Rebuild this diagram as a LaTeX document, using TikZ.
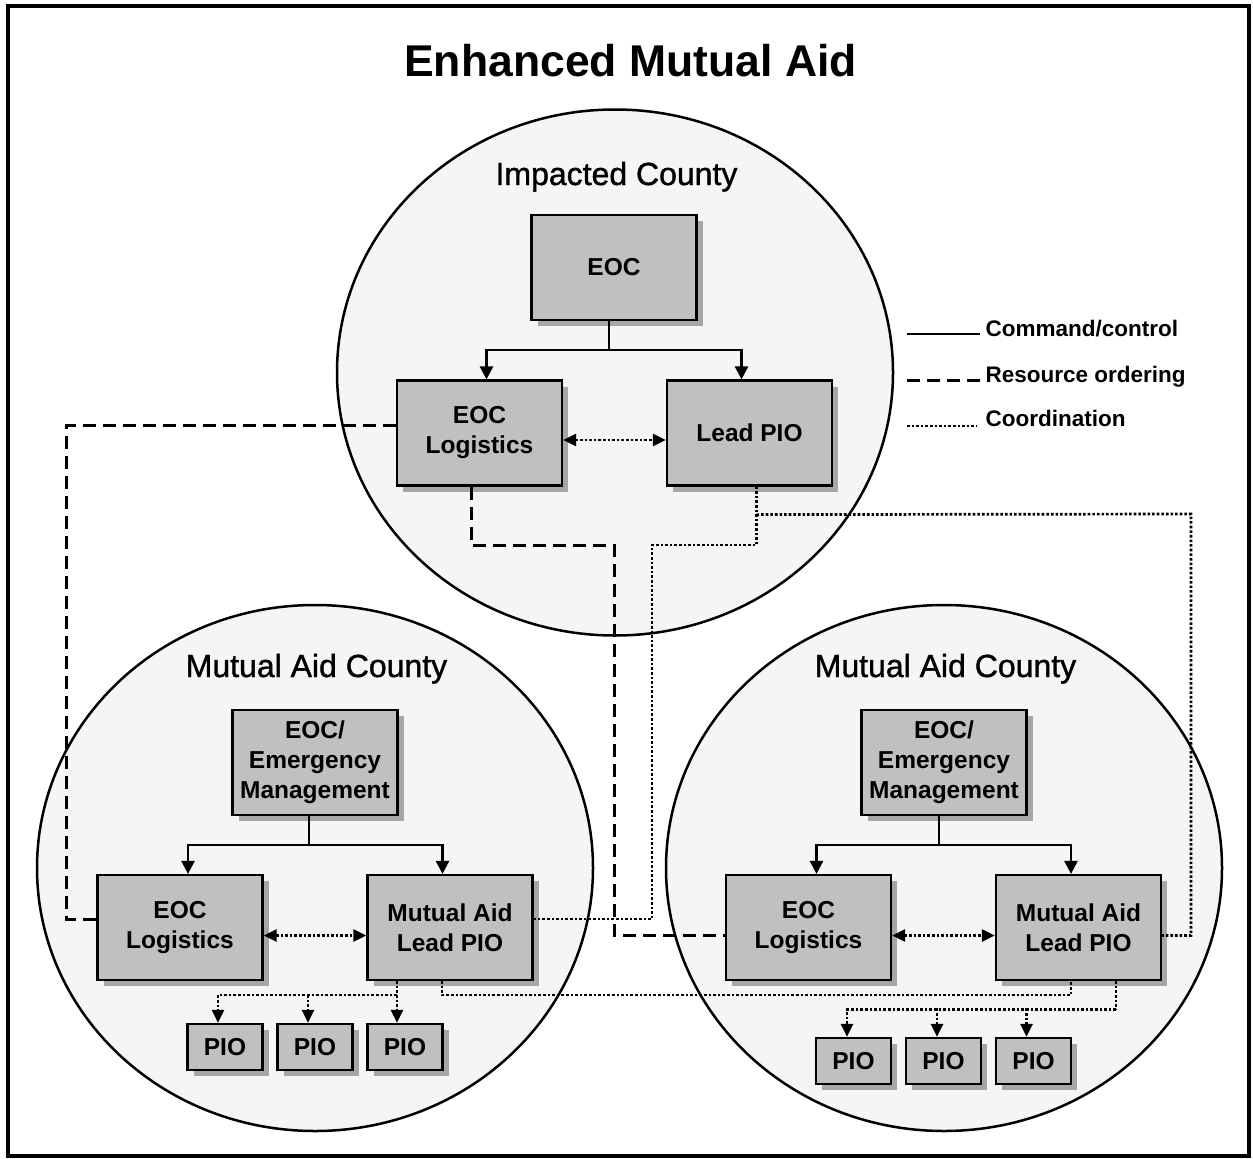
\documentclass[tikz,border=0pt]{standalone}
\usepackage{fontspec}
\setmainfont{Liberation Sans}
\newfontfamily\circfam{Liberation Sans}[FakeBold=1.2]
\usetikzlibrary{arrows.meta,calc,shapes.geometric,shadows}
\definecolor{boxgray}{RGB}{192,192,192}
\definecolor{circfill}{RGB}{245,245,245}
\newcommand\boxfont{\fontsize{24.5pt}{30pt}\selectfont\bfseries}
\newcommand\titlefont{\fontsize{44.5pt}{50pt}\selectfont\bfseries}
\newcommand\circfont{\circfam\fontsize{32pt}{38pt}\selectfont}
\newcommand\legfont{\fontsize{22.5pt}{27pt}\selectfont\bfseries}
\begin{document}
\begin{tikzpicture}[x=1pt,y=-1pt,
  box/.style={draw=black, line width=2.2pt, fill=boxgray, inner sep=0pt, align=center, font=\boxfont,
    drop shadow={shadow xshift=6pt, shadow yshift=-6pt, fill=black!35, opacity=1}},
  big/.style={box, minimum width=165pt, minimum height=105pt},
  small/.style={box, minimum width=75pt, minimum height=46pt},
  county/.style={ellipse, draw=black, line width=2.5pt, fill=circfill, minimum width=556pt, minimum height=526pt, inner sep=0pt},
  cmd/.style={line width=2.5pt},
  cmdarrow/.style={cmd, -{Triangle[length=13pt,width=13pt]}},
  res/.style={line width=3pt, dash pattern=on 13pt off 7pt},
  coord/.style={line width=2.7pt, dash pattern=on 2.6pt off 2pt},
  coordarrow/.style={coord, -{Triangle[length=13pt,width=12pt]}},
  coordboth/.style={coord, {Triangle[length=13pt,width=12pt]}-{Triangle[length=13pt,width=12pt]}},
  lab/.style={anchor=base, inner sep=0pt, font=\circfont},
  leg/.style={anchor=base west, inner sep=0pt, font=\legfont}
]
\useasboundingbox (0,0) rectangle (1253,1159);
\fill[white] (0,0) rectangle (1253,1159);
\draw[line width=3.5pt] (8,6) rectangle (1249,1156);

% title
\node[anchor=base, inner sep=0pt, font=\titlefont] (title) at (630.5,76.5) {Enhanced Mutual Aid};

% counties
\node[county] (cI) at (615,372.5) {};
\node[county] (cL) at (315,868) {};
\node[county] (cR) at (944,868) {};
\node[lab] (labI) at (616.5,185) {Impacted County};
\node[lab] (labL) at (316.5,677) {Mutual Aid County};
\node[lab] (labR) at (945.5,677) {Mutual Aid County};

% boxes: impacted county
\node[big] (eoc) at (614,267.5) {EOC};
\node[big] (log1) at (479.5,433) {EOC\\Logistics};
\node[big] (pio1) at (749.5,433) {Lead PIO};

% boxes: left county
\node[big] (emL) at (315,762.5) {EOC/\\Emergency\\Management};
\node[big] (logL) at (180,927.5) {EOC\\Logistics};
\node[big] (leadL) at (450,927.5) {Mutual Aid\\Lead PIO};
\node[small] (pioL1) at (225,1047) {PIO};
\node[small] (pioL2) at (315,1047) {PIO};
\node[small] (pioL3) at (405,1047) {PIO};

% boxes: right county
\node[big] (emR) at (944,762.5) {EOC/\\Emergency\\Management};
\node[big] (logR) at (808.5,927.5) {EOC\\Logistics};
\node[big] (leadR) at (1078.5,927.5) {Mutual Aid\\Lead PIO};
\node[small] (pioR1) at (853.5,1061) {PIO};
\node[small] (pioR2) at (943.5,1061) {PIO};
\node[small] (pioR3) at (1033.5,1061) {PIO};

% command/control
\coordinate (jT) at (609,350);
\draw[cmd] ([xshift=-5pt]eoc.south) -- (jT);
\draw[cmdarrow] (jT) -| ($(log1.north)+(7,0)$);
\draw[cmdarrow] (jT) -| ($(pio1.north)+(-8,0)$);
\coordinate (jL) at (309,845);
\draw[cmd] ([xshift=-6pt]emL.south) -- (jL);
\draw[cmdarrow] (jL) -| ($(logL.north)+(8,0)$);
\draw[cmdarrow] (jL) -| ($(leadL.north)+(-7.5,0)$);
\coordinate (jR) at (939,845);
\draw[cmd] ([xshift=-5pt]emR.south) -- (jR);
\draw[cmdarrow] (jR) -| ($(logR.north)+(8,0)$);
\draw[cmdarrow] (jR) -| ($(leadR.north)+(-7.5,0)$);

% coordination within counties
\draw[coordboth] ($(log1.east)+(0,7)$) -- ($(pio1.west)+(0,7)$);
\draw[coordboth] ($(logL.east)+(0,8)$) -- ($(leadL.west)+(0,8)$);
\draw[coordboth] ($(logR.east)+(0,8)$) -- ($(leadR.west)+(0,8)$);

% resource ordering
\draw[res] ($(log1.west)+(0,-8)$) -| ($(logL.west)+(-30,-8.5)$) -- ($(logL.west)+(0,-8.5)$);
\coordinate (r1) at (614,545);
\draw[res] ($(log1.south)+(-8,0)$) |- (r1) |- ($(logR.west)+(0,8)$);

% coordination between counties
\coordinate (r2) at (652,545);
\draw[coord] ($(pio1.south)+(7,0)$) |- (r2) |- ($(leadL.east)+(0,-8.5)$);
\coordinate (r3) at (1191,514);
\draw[coord] ($(pio1.south)+(7,28)$) -- (r3) |- ($(leadR.east)+(0,8)$);
\draw[coord] ($(leadL.south)+(-8,0)$) -- ++(0,14) -| ($(leadR.south)+(-7.5,0)$);

% PIOs left
\draw[coordarrow] ($(leadL.south)+(-53,0)$) -- ($(pioL3.north)+(-8,0)$);
\coordinate (pl) at (397,995);
\draw[coordarrow] (pl) -| ($(pioL1.north)+(-7,0)$);
\draw[coordarrow] ($(pioL2.north)+(-7,-28)$) -- ($(pioL2.north)+(-7,0)$);

% PIOs right
\coordinate (pr) at (1116,1009.5);
\draw[coord] ($(leadR.south)+(37.5,0)$) -- (pr);
\draw[coordarrow] (pr) -| ($(pioR1.north)+(-6.5,0)$);
\draw[coordarrow] ($(pioR2.north)+(-6.5,-28.5)$) -- ($(pioR2.north)+(-6.5,0)$);
\draw[coordarrow] ($(pioR3.north)+(-7,-28.5)$) -- ($(pioR3.north)+(-7,0)$);

% legend
\coordinate (lg1a) at (907,334); \coordinate (lg1b) at (980,334);
\coordinate (lg2a) at (907,380); \coordinate (lg2b) at (980,380);
\coordinate (lg3a) at (907,426); \coordinate (lg3b) at (977,426);
\draw[cmd] (lg1a) -- (lg1b);
\draw[res] (lg2a) -- (lg2b);
\draw[coord] (lg3a) -- (lg3b);
\node[leg] (lt1) at (985.5,336) {Command/control};
\node[leg] (lt2) at (985.5,382) {Resource ordering};
\node[leg] (lt3) at (985.5,426) {Coordination};
\end{tikzpicture}
\end{document}
